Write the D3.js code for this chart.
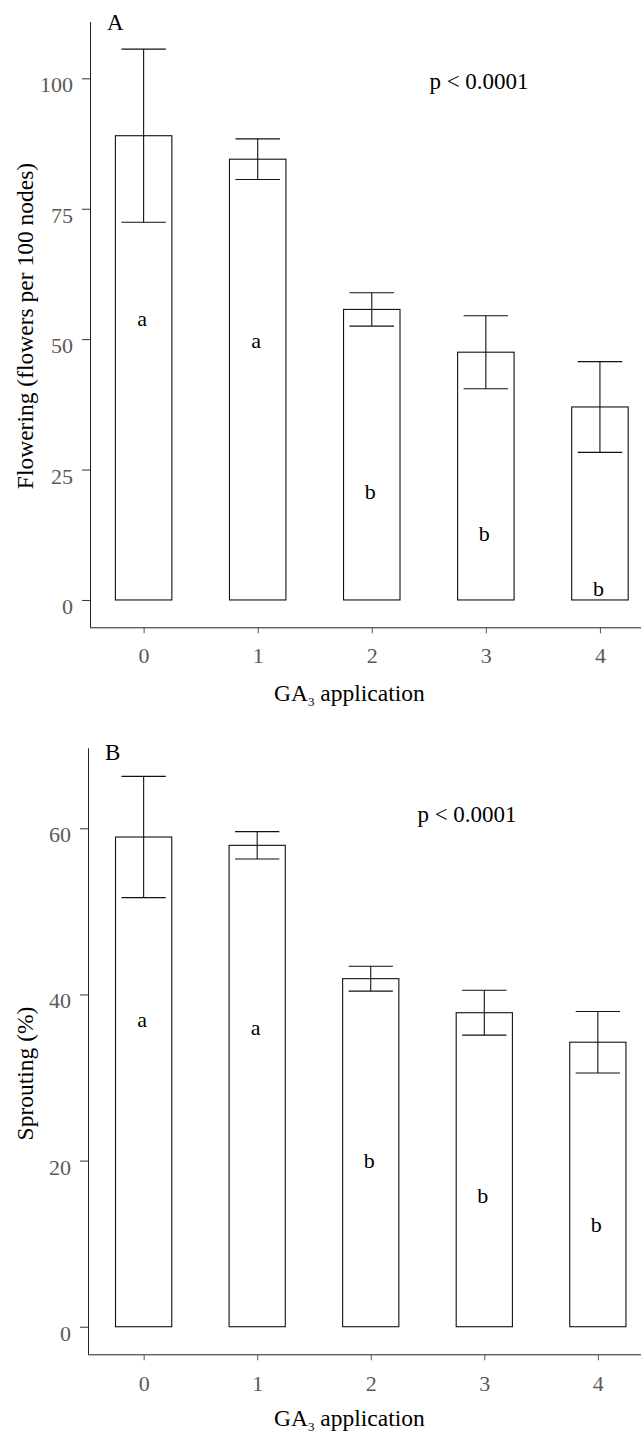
<!DOCTYPE html>
<html>
<head>
<meta charset="utf-8">
<script src="https://cdn.jsdelivr.net/npm/d3@7"></script>
<style>
  body { margin: 0; background: #fff; }
  svg text { font-family: "Liberation Serif", "Times New Roman", serif; }
</style>
</head>
<body>
<div id="chart"></div>
<script>
// GA3 application levels
const levels = [0, 1, 2, 3, 4];
const letters = ["a", "a", "b", "b", "b"];

// panel A: flowering (flowers per 100 nodes)
const flowerMean = [89.0, 84.5, 55.7, 47.5, 37.0];
const flowerErr = [16.6, 3.9, 3.2, 7.0, 8.7];
const flowerLetterAt = [52.5, 48.3, 19.3, 11.3, 0.8];
const flowerTicks = [0, 25, 50, 75, 100];

// panel B: sprouting (%)
const sproutMean = [58.95, 57.95, 41.9, 37.8, 34.25];
const sproutErr = [7.3, 1.65, 1.5, 2.7, 3.7];
const sproutLetterAt = [36.1, 35.1, 19.1, 14.9, 11.4];
const sproutTicks = [0, 20, 40, 60];

const W = 641, H = 1435;
const svg = d3.select("#chart").append("svg")
  .attr("width", W)
  .attr("height", H);

// one panel = one bar chart with error bars
function drawPanel(opt) {
  const g = svg.append("g");

  let xScale = d3.scaleLinear()
    .domain(opt.xDomain)
    .range([opt.left, W]);
  let yScale = d3.scaleLinear()
    .domain(opt.yDomain)
    .range([opt.bottom, opt.top]);

  const step = xScale(1) - xScale(0);
  const barW = step * 0.495;
  const capW = step * 0.39;

  // y axis
  let yAxis = d3.axisLeft(yScale).tickValues(opt.yTicks).tickSize(8).tickPadding(9);
  const ya = g.append("g")
    .attr("transform", "translate(" + opt.left + ",0)")
    .call(yAxis);
  ya.select(".domain").attr("d", "M0.5," + opt.top + "V" + opt.bottom);
  ya.selectAll(".tick line").attr("stroke", "#333");
  ya.selectAll(".tick text")
    .attr("dy", 13.5)
    .attr("fill", "#5a5a5a")
    .style("font-size", "22px");

  // x axis
  let xAxis = d3.axisBottom(xScale).tickValues(levels).tickSize(6).tickPadding(0)
    .tickFormat(d3.format("d"));
  const xa = g.append("g")
    .attr("transform", "translate(0," + opt.bottom + ")")
    .call(xAxis);
  xa.select(".domain").attr("d", "M" + opt.left + ",0.5H" + W);
  xa.selectAll(".tick line").attr("stroke", "#555");
  xa.selectAll(".tick text")
    .attr("y", 0)
    .attr("dy", opt.xLabelDy)
    .attr("fill", "#5a5a5a")
    .style("font-size", "22px");
  g.selectAll(".domain").attr("stroke", "#222");
  g.selectAll(".tick text").style("font-family", "'Liberation Serif', serif");

  // bars
  g.selectAll(".bar")
    .data(levels)
    .enter()
    .append("rect")
    .attr("class", "bar")
    .attr("x", d => xScale(d) - barW / 2)
    .attr("y", (d, i) => yScale(opt.mean[i]))
    .attr("width", barW)
    .attr("height", (d, i) => yScale(0) - yScale(opt.mean[i]))
    .attr("fill", "none")
    .attr("stroke", "#111")
    .attr("stroke-width", 1.1);

  // error bars
  const eb = g.selectAll(".err")
    .data(levels)
    .enter()
    .append("g")
    .attr("class", "err")
    .attr("stroke", "#111")
    .attr("stroke-width", 1.1);
  eb.append("line")
    .attr("x1", d => xScale(d)).attr("x2", d => xScale(d))
    .attr("y1", (d, i) => yScale(opt.mean[i] + opt.err[i]))
    .attr("y2", (d, i) => yScale(opt.mean[i] - opt.err[i]));
  eb.append("line")
    .attr("x1", d => xScale(d) - capW / 2).attr("x2", d => xScale(d) + capW / 2)
    .attr("y1", (d, i) => yScale(opt.mean[i] + opt.err[i]))
    .attr("y2", (d, i) => yScale(opt.mean[i] + opt.err[i]));
  eb.append("line")
    .attr("x1", d => xScale(d) - capW / 2).attr("x2", d => xScale(d) + capW / 2)
    .attr("y1", (d, i) => yScale(opt.mean[i] - opt.err[i]))
    .attr("y2", (d, i) => yScale(opt.mean[i] - opt.err[i]));

  // significance letters
  g.selectAll(".letter")
    .data(levels)
    .enter()
    .append("text")
    .attr("class", "letter")
    .attr("x", d => xScale(d) - 1.5)
    .attr("y", (d, i) => yScale(opt.letterAt[i]))
    .attr("text-anchor", "middle")
    .style("font-size", "22px")
    .text((d, i) => letters[i]);

  // panel letter
  g.append("text")
    .attr("x", opt.left + 17)
    .attr("y", opt.top + opt.panelDy)
    .style("font-size", "23px")
    .text(opt.panel);

  // p value
  g.append("text")
    .attr("x", opt.pX)
    .attr("y", opt.pY)
    .attr("text-anchor", "middle")
    .style("font-size", "23px")
    .text("p < 0.0001");

  // y title
  g.append("text")
    .attr("transform", "translate(33," + opt.yTitleMid + ") rotate(-90)")
    .attr("text-anchor", "middle")
    .style("font-size", "23.5px")
    .text(opt.yTitle);

  // x title with subscript
  const xt = g.append("text")
    .attr("x", 274)
    .attr("y", opt.xTitleY)
    .style("font-size", "23.5px");
  xt.append("tspan").text("GA");
  xt.append("tspan").attr("dy", 5).style("font-size", "13px").text("3");
  xt.append("tspan").attr("dy", -5).text(" application");
}

drawPanel({
  panel: "A",
  left: 90, top: 22, bottom: 627.3,
  xDomain: [-0.47, 4.36],
  yDomain: [-5.24, 110.8],
  yTicks: flowerTicks,
  mean: flowerMean, err: flowerErr, letterAt: flowerLetterAt,
  xLabelDy: 36, panelDy: 8,
  pX: 479, pY: 89,
  yTitle: "Flowering (flowers per 100 nodes)", yTitleMid: 326,
  xTitleY: 701
});

drawPanel({
  panel: "B",
  left: 88, top: 748.3, bottom: 1354.3,
  xDomain: [-0.49, 4.38],
  yDomain: [-3.32, 69.63],
  yTicks: sproutTicks,
  mean: sproutMean, err: sproutErr, letterAt: sproutLetterAt,
  xLabelDy: 37, panelDy: 12,
  pX: 467, pY: 821.7,
  yTitle: "Sprouting (%)", yTitleMid: 1073.5,
  xTitleY: 1426
});
</script>
</body>
</html>
